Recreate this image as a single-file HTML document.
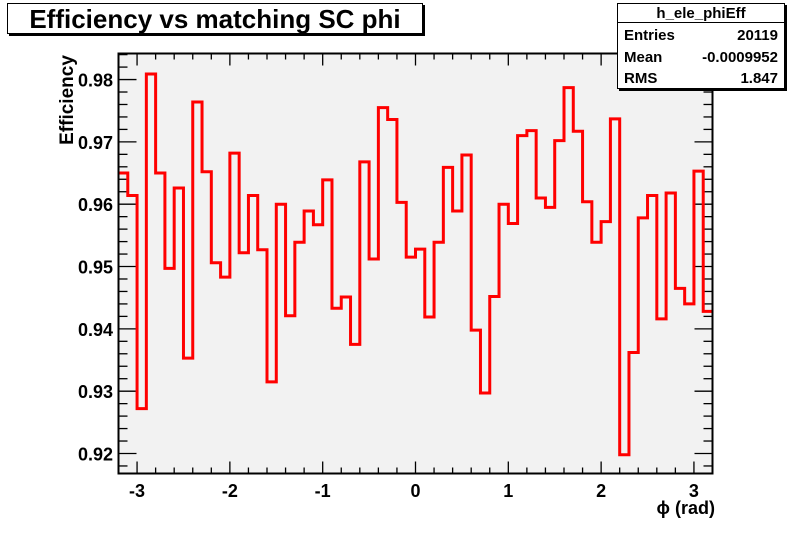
<!DOCTYPE html>
<html><head><meta charset="utf-8"><style>
html,body{margin:0;padding:0;background:#fff;}
svg{display:block;font-family:"Liberation Sans",Arial,sans-serif;font-weight:bold;}
</style></head><body>
<svg id="c" width="792" height="544" viewBox="0 0 792 544">
  <rect x="118.5" y="53.5" width="594" height="420" fill="#f2f2f2"/>
  <g id="ticks"></g>
  <g id="labels"></g>
  <path id="hist" fill="none" stroke="#ff0000" stroke-width="3"/>
  <rect x="118.5" y="53.5" width="594" height="420" fill="none" stroke="#000" stroke-width="2"/>
  <text transform="translate(73,100) rotate(-90)" text-anchor="middle" font-size="19">Efficiency</text>
  <text x="715" y="514" text-anchor="end" font-size="18">ϕ (rad)</text>
  <g>
    <rect x="9" y="5" width="416" height="31" fill="#000"/>
    <rect x="7.5" y="3.5" width="415" height="30" fill="#fff" stroke="#000" stroke-width="1"/>
    <text x="215" y="28" text-anchor="middle" font-size="26">Efficiency vs matching SC phi</text>
  </g>
  <g>
    <rect x="619" y="5" width="168" height="86" fill="#000"/>
    <rect x="617.5" y="3.5" width="167" height="85" fill="#fff" stroke="#000" stroke-width="1"/>
    <line x1="617.5" y1="22.5" x2="784.5" y2="22.5" stroke="#000"/>
    <text x="701" y="18" text-anchor="middle" font-size="15">h_ele_phiEff</text>
    <text x="624" y="40" font-size="15">Entries</text>
    <text x="778" y="40" text-anchor="end" font-size="15">20119</text>
    <text x="624" y="62" font-size="15">Mean</text>
    <text x="778" y="62" text-anchor="end" font-size="15">-0.0009952</text>
    <text x="624" y="83" font-size="15">RMS</text>
    <text x="778" y="83" text-anchor="end" font-size="15">1.847</text>
  </g>
</svg>
<script>
const binValues = [0.9650,0.9614,0.9272,0.9809,0.9650,0.9497,0.9626,0.9353,0.9764,0.9652,
0.9506,0.9483,0.9682,0.9522,0.9614,0.9527,0.9315,0.9600,0.9421,0.9539,
0.9589,0.9567,0.9639,0.9433,0.9451,0.9375,0.9668,0.9512,0.9755,0.9736,
0.9603,0.9515,0.9528,0.9419,0.9539,0.9659,0.9589,0.9679,0.9398,0.9297,
0.9452,0.9600,0.9569,0.9710,0.9718,0.9610,0.9595,0.9702,0.9787,0.9717,
0.9604,0.9539,0.9572,0.9737,0.9198,0.9362,0.9578,0.9614,0.9416,0.9618,
0.9465,0.9440,0.9653,0.9428];
const xRange = [-3.2, 3.2];
const yRange = [0.91679, 0.98418];
const xTickLabels = ["-3","-2","-1","0","1","2","3"];
const yTickLabels = ["0.92","0.93","0.94","0.95","0.96","0.97","0.98"];

const L=118.5,R=712.5,T=53.5,B=473.5;
function sx(v){return L+(v-xRange[0])/(xRange[1]-xRange[0])*(R-L);}
function sy(v){return B-(v-yRange[0])/(yRange[1]-yRange[0])*(B-T);}
const NS="http://www.w3.org/2000/svg";
const tg=document.getElementById('ticks'), lg=document.getElementById('labels');
function line(x1,y1,x2,y2){const l=document.createElementNS(NS,'line');
l.setAttribute('x1',x1);l.setAttribute('y1',y1);l.setAttribute('x2',x2);l.setAttribute('y2',y2);
l.setAttribute('stroke','#000');l.setAttribute('stroke-width','1.3');


tg.appendChild(l);}
for(let i=-16;i<=16;i++){const v=i*0.2;if(v<xRange[0]-1e-9||v>xRange[1]+1e-9)continue;
 const major=Math.abs(v-Math.round(v))<1e-9;const len=major?12:6;const x=sx(v);
 line(x,B,x,B-len);line(x,T,x,T+len);}
for(let i=0;i<=40;i++){const v=0.91+i*0.002;if(v<yRange[0]||v>yRange[1])continue;
 const major=(i%5===0);const len=major?18:9;const y=sy(v);
 line(L,y,L+len,y);line(R,y,R-len,y);}
xTickLabels.forEach(s=>{const t=document.createElementNS(NS,'text');
 t.setAttribute('x',sx(parseFloat(s)));t.setAttribute('y',497);t.setAttribute('text-anchor','middle');
 t.setAttribute('font-size','18');t.textContent=s;
 
 
 lg.appendChild(t);});
yTickLabels.forEach(s=>{const t=document.createElementNS(NS,'text');
 t.setAttribute('x',113);t.setAttribute('y',sy(parseFloat(s))+7);t.setAttribute('text-anchor','end');
 t.setAttribute('font-size','18');t.textContent=s;
 
 
 lg.appendChild(t);});
const n=binValues.length,w=(xRange[1]-xRange[0])/n;
let d='';
binValues.forEach((v,i)=>{const x0=sx(xRange[0]+i*w),x1=sx(xRange[0]+(i+1)*w),y=sy(v);
 d+=(i===0?'M':'L')+x0+','+y+'L'+x1+','+y;});
document.getElementById('hist').setAttribute('d',d);
</script>
</body></html>
